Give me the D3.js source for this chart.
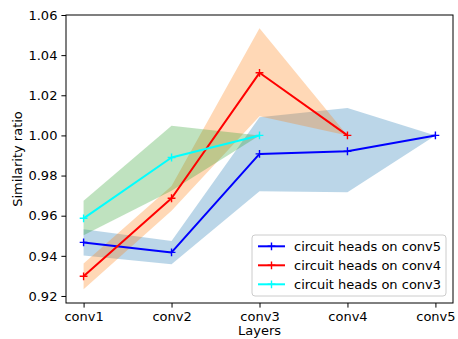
<!DOCTYPE html>
<html>
<head>
<meta charset="utf-8">
<script src="https://cdn.jsdelivr.net/npm/d3@7/dist/d3.min.js"></script>
<style>
  html, body { margin: 0; padding: 0; background: #fff; }
  svg { display: block; }
  text { font-family: "DejaVu Sans", sans-serif; fill: #000; }
</style>
</head>
<body>
<svg id="chart" width="458" height="339"></svg>
<script>
// Layer names along the x axis
const categories = ["conv1", "conv2", "conv3", "conv4", "conv5"];
const yTicks = [0.92, 0.94, 0.96, 0.98, 1.00, 1.02, 1.04, 1.06];

// Mean similarity ratio and its spread, per circuit
const conv5Mean  = [0.9467, 0.9417, 0.9908, 0.9921, 1.0];
const conv5Lower = [0.9402, 0.9358, 0.9722, 0.9717, 1.0];
const conv5Upper = [0.9532, 0.9474, 1.0090, 1.0136, 1.0];

const conv4Mean  = [0.9298, 0.9687, 1.0312, 1.0];
const conv4Lower = [0.9234, 0.9625, 1.0095, 1.0];
const conv4Upper = [0.9362, 0.9748, 1.0534, 1.0];

const conv3Mean  = [0.9587, 0.9890, 1.0];
const conv3Lower = [0.9503, 0.9724, 1.0];
const conv3Upper = [0.9675, 1.0048, 1.0];

const seriesNames = ["circuit heads on conv5", "circuit heads on conv4", "circuit heads on conv3"];

const series = [
  { name: seriesNames[0], mean: conv5Mean, lo: conv5Lower, hi: conv5Upper, line: "#0000ff", band: "#1f77b4" },
  { name: seriesNames[1], mean: conv4Mean, lo: conv4Lower, hi: conv4Upper, line: "#ff0000", band: "#ff7f0e" },
  { name: seriesNames[2], mean: conv3Mean, lo: conv3Lower, hi: conv3Upper, line: "#00ffff", band: "#2ca02c" }
];

const svg = d3.select("#chart");
const plot = { left: 66, right: 453, top: 15, bottom: 303 };

const x = d3.scaleLinear().domain([-0.2, categories.length - 1 + 0.2]).range([plot.left, plot.right]);
const y = d3.scaleLinear().domain([0.9165, 1.06]).range([plot.bottom, plot.top]);

const g = svg.append("g");

// Shaded spread bands
series.forEach(s => {
  const area = d3.area()
    .x((d, i) => x(i))
    .y0((d, i) => y(s.lo[i]))
    .y1((d, i) => y(s.hi[i]));
  g.append("path")
    .datum(s.mean)
    .attr("d", area)
    .attr("fill", s.band)
    .attr("fill-opacity", 0.3)
    .attr("stroke", "none");
});

// Mean lines with "+" markers
function plus(sel, cx, cy, color) {
  const r = 3.9;
  sel.append("path")
    .attr("d", `M${cx - r},${cy}H${cx + r}M${cx},${cy - r}V${cy + r}`)
    .attr("stroke", color)
    .attr("stroke-width", 1.4)
    .attr("fill", "none");
}

series.forEach(s => {
  const line = d3.line().x((d, i) => x(i)).y(d => y(d));
  g.append("path")
    .datum(s.mean)
    .attr("d", line)
    .attr("fill", "none")
    .attr("stroke", s.line)
    .attr("stroke-width", 2)
    .attr("stroke-linejoin", "round");
  s.mean.forEach((v, i) => plus(g, x(i), y(v), s.line));
});

// Axes
const xAxis = d3.axisBottom(x)
  .tickValues(d3.range(categories.length))
  .tickFormat(i => categories[i])
  .tickSize(4.6)
  .tickPadding(4);
const yAxis = d3.axisLeft(y)
  .tickValues(yTicks)
  .tickFormat(d3.format(".2f"))
  .tickSize(4.6)
  .tickPadding(4);

const gx = svg.append("g").attr("transform", `translate(0,${plot.bottom})`).call(xAxis);
const gy = svg.append("g").attr("transform", `translate(${plot.left},0)`).call(yAxis);
[gx, gy].forEach(a => {
  a.select(".domain").remove();
  a.selectAll(".tick line").attr("stroke", "#000").attr("stroke-width", 1);
  a.selectAll(".tick text").attr("font-size", 13).attr("font-family", "DejaVu Sans, sans-serif").attr("fill", "#000");
});

// Frame
svg.append("rect")
  .attr("x", plot.left).attr("y", plot.top)
  .attr("width", plot.right - plot.left).attr("height", plot.bottom - plot.top)
  .attr("fill", "none").attr("stroke", "#000").attr("stroke-width", 1);

// Axis titles
svg.append("text")
  .attr("x", (plot.left + plot.right) / 2).attr("y", 335)
  .attr("text-anchor", "middle").attr("font-size", 13)
  .text("Layers");
svg.append("text")
  .attr("transform", `translate(22,${(plot.top + plot.bottom) / 2}) rotate(-90)`)
  .attr("text-anchor", "middle").attr("font-size", 13)
  .text("Similarity ratio");

// Legend
const legend = svg.append("g");
legend.append("rect")
  .attr("x", 252).attr("y", 235).attr("width", 194).attr("height", 61)
  .attr("rx", 3).attr("ry", 3)
  .attr("fill", "#fff").attr("fill-opacity", 0.8)
  .attr("stroke", "#cccccc").attr("stroke-width", 1);
series.forEach((s, i) => {
  const cy = 246.3 + i * 19;
  legend.append("line")
    .attr("x1", 258).attr("x2", 285).attr("y1", cy).attr("y2", cy)
    .attr("stroke", s.line).attr("stroke-width", 2);
  plus(legend, 271.5, cy, s.line);
  legend.append("text")
    .attr("x", 294).attr("y", cy).attr("dy", "0.35em")
    .attr("font-size", 13)
    .text(s.name);
});
</script>
</body>
</html>
